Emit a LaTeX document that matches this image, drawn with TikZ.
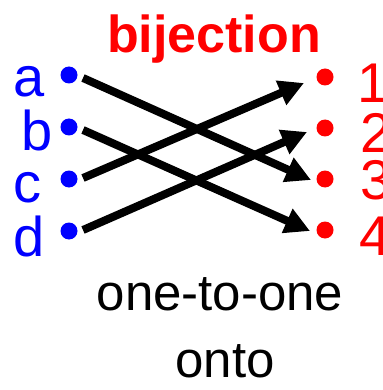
\documentclass[tikz,border=0pt]{standalone}
\usepackage{fontspec}
\setmainfont{Liberation Sans}
\usetikzlibrary{arrows.meta}
\begin{document}
\begin{tikzpicture}[x=1pt,y=-1pt,
  dotb/.style={circle,fill=blue,inner sep=0pt,minimum size=17pt},
  dotr/.style={circle,fill=red,inner sep=0pt,minimum size=17pt},
  lab/.style={text=blue,font=\fontsize{56}{56}\selectfont,anchor=base west,inner sep=0pt},
  num/.style={text=red,font=\fontsize{56}{56}\selectfont,anchor=base west,inner sep=0pt},
  ttl/.style={text=red,font=\fontsize{52}{52}\selectfont\bfseries,anchor=base,inner sep=0pt},
  captext/.style={text=black,font=\fontsize{51}{51}\selectfont,anchor=base,inner sep=0pt},
  arr/.style={line width=8pt,-{Triangle[length=25pt,width=25pt]}}]
\useasboundingbox (0,0) rectangle (382,390);
\node[ttl] (title) at (214,53) {bijection};
\node[dotb] (a) at (69,75) {};
\node[dotb] (b) at (69,127) {};
\node[dotb] (c) at (69,179) {};
\node[dotb] (d) at (69,231) {};
\node[dotr] (n1) at (325,77) {};
\node[dotr] (n2) at (325,128) {};
\node[dotr] (n3) at (325,179) {};
\node[dotr] (n4) at (325,230) {};
\node[lab] (la) at (13,97) {a};
\node[lab] (lb) at (21,150) {b};
\node[lab] (lc) at (13,202) {c};
\node[lab] (ld) at (13,256) {d};
\node[num] (l1) at (357,103) {1};
\node[num] (l2) at (360,152) {2};
\node[num] (l3) at (360,199) {3};
\node[num] (l4) at (359,255) {4};
\draw[arr] ([shift={(14,3)}]a.center) -- ([shift={(-14,1)}]n3.center);
\draw[arr] ([shift={(14,3)}]b.center) -- ([shift={(-15,1)}]n4.center);
\draw[arr] ([shift={(14,-1)}]c.center) -- ([shift={(-21,6)}]n1.center);
\draw[arr] ([shift={(14,-1)}]d.center) -- ([shift={(-18,4)}]n2.center);
\node[captext] (c1) at (220,310) {one-to-one};
\node[captext] (c2) at (225,377) {onto};
\end{tikzpicture}
\end{document}
